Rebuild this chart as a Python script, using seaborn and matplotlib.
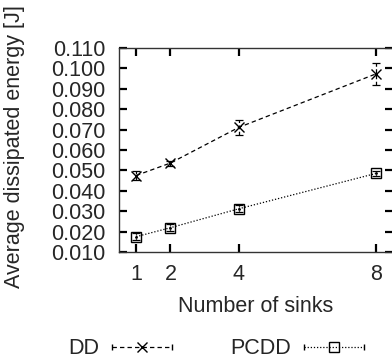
import numpy as np
import pandas as pd
import matplotlib
matplotlib.use("Agg")
import matplotlib.pyplot as plt
import seaborn as sns
from matplotlib.lines import Line2D
from matplotlib.legend_handler import HandlerLine2D

sinks = [1, 2, 4, 8]
dd_mean = [0.0475, 0.0536, 0.0711, 0.0973]
dd_err = [0.0020, 0.0012, 0.0037, 0.0055]
pcdd_mean = [0.0175, 0.0219, 0.0312, 0.0485]
pcdd_err = [0.0018, 0.0018, 0.0018, 0.0012]
yticks = [0.010, 0.020, 0.030, 0.040, 0.050, 0.060, 0.070, 0.080, 0.090, 0.100, 0.110]

sns.set_theme(style="ticks")
plt.rcParams['font.family'] = ['Liberation Sans', 'DejaVu Sans']
FS = 15.5

df_dd = pd.DataFrame({"sinks": sinks, "energy": dd_mean})
df_pc = pd.DataFrame({"sinks": sinks, "energy": pcdd_mean})

fig = plt.figure(figsize=(3.92, 3.58), dpi=100)
ax = fig.add_axes([119 / 392, 106 / 358, 274 / 392, 204 / 358])

DD_DASH = (0, (3.5, 2.5))
PC_DASH = (0, (1, 1.5))

sns.lineplot(data=df_dd, x="sinks", y="energy", ax=ax, color="black",
             linewidth=0.9, linestyle=DD_DASH, marker="x", markersize=7.5,
             markeredgecolor="black", markeredgewidth=1.0, legend=False)
sns.lineplot(data=df_pc, x="sinks", y="energy", ax=ax, color="black",
             linewidth=0.9, linestyle=PC_DASH, marker="s", markersize=7,
             markeredgecolor="black", markerfacecolor="none",
             markeredgewidth=1.0, legend=False)
# center dots of the square markers
ax.plot(sinks, pcdd_mean, linestyle="none", marker=".", color="black", markersize=2)

eb1 = ax.errorbar(sinks, dd_mean, yerr=dd_err, fmt="none", ecolor="black",
                  elinewidth=0.9, capsize=3, capthick=0.9)
eb1[2][0].set_linestyle((0, (3, 2)))
eb2 = ax.errorbar(sinks, pcdd_mean, yerr=pcdd_err, fmt="none", ecolor="black",
                  elinewidth=0.9, capsize=3, capthick=0.9)
eb2[2][0].set_linestyle((0, (1, 1)))

ax.set_xlim(0.5, 8.5)
ax.set_ylim(0.010, 0.110)
ax.set_xticks(sinks)
ax.set_xticklabels([str(s) for s in sinks])
ax.set_yticks(yticks)
ax.set_yticklabels([f"{v:.3f}" for v in yticks])
ax.tick_params(axis="both", direction="in", length=6, width=1.6, color="black",
               labelsize=FS, top=True, right=True)
ax.tick_params(axis="x", pad=9)
ax.tick_params(axis="y", pad=10)
for s in ax.spines.values():
    s.set_color("#333333")
    s.set_linewidth(1.0)
ax.set_xlabel("")
ax.set_ylabel("")

fig.text(15 / 392, (358 - 147) / 358, "Average dissipated energy [J]", rotation=90,
         ha="center", va="center", fontsize=FS)
fig.text(256 / 392, (358 - 312) / 358, "Number of sinks", ha="center",
         va="baseline", fontsize=FS)


class CapHandler(HandlerLine2D):
    def create_artists(self, legend, orig_handle, xdescent, ydescent, width,
                       height, fontsize, trans):
        artists = super().create_artists(legend, orig_handle, xdescent, ydescent,
                                         width, height, fontsize, trans)
        y = height / 2 - ydescent
        cap = Line2D([-xdescent, -xdescent + width], [y, y], linestyle="none",
                     marker="|", markersize=4, markeredgewidth=1.0, color="black")
        cap.set_transform(trans)
        return list(artists) + [cap]


h_dd = Line2D([], [], color="black", linestyle=DD_DASH, linewidth=0.9,
              marker="x", markersize=7, markeredgewidth=1.0)
h_pc = Line2D([], [], color="black", linestyle=PC_DASH, linewidth=0.9,
              marker="s", markersize=7, markerfacecolor="none", markeredgewidth=1.0)
hmap = {h_dd: CapHandler(numpoints=1), h_pc: CapHandler(numpoints=1)}
fig.legend([h_dd, h_pc], ["DD", "PCDD"], handler_map=hmap,
           loc="center", bbox_to_anchor=(216 / 392, 9 / 358), ncol=2,
           frameon=False, markerfirst=False, fontsize=FS, handlelength=2.8,
           handletextpad=0.6, columnspacing=2.7, borderpad=0, borderaxespad=0)

fig.savefig("out.png", dpi=100)
